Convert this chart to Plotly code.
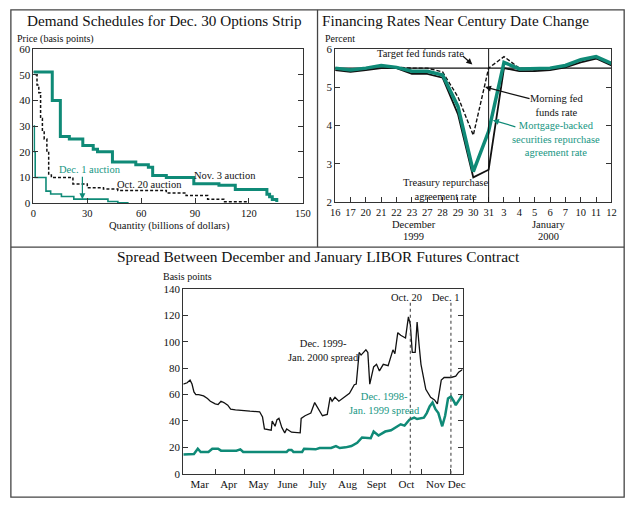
import plotly.graph_objects as go

# ---------------- data: top-left (demand schedules, step vertices) ----------------
nov3_qty = [0, 10.5, 15, 20, 27.5, 33.3, 35.7, 44, 57, 64, 66.4, 74, 89.3, 103.3, 112.4, 130, 131.5, 133, 135.5]
nov3_price = [51, 40, 26, 25, 22.5, 21, 20, 16, 15, 14, 10.8, 10, 7.6, 7, 5.3, 3.5, 2.5, 1.5, 0.5]

oct20_qty = [0, 1.5, 2, 3, 4, 5, 6, 7.5, 8.5, 10, 22, 30, 39, 47, 74, 85, 97, 106, 120]
oct20_price = [51, 50, 46, 43, 33, 28, 25, 20, 11, 10, 7.5, 6, 5.5, 5, 4, 3, 1.6, 0.6, 0.6]

dec1_qty = [0, 0.5, 1, 7, 9.6, 15.6, 22.5, 41.5, 47, 53]
dec1_price = [30, 20, 10, 4.7, 3.6, 2.6, 1.6, 0.7, 0.2, 0.2]

# ---------------- data: top-right (financing rates) ----------------
day_labels = ["16", "17", "20", "21", "22", "23", "27", "28", "29", "30", "31",
              "3", "4", "5", "6", "7", "10", "11", "12"]
target_rate = [5.5] * 19
morning_ff = [5.5, 5.45, 5.5, 5.55, 5.52, 5.5, 5.5, 5.4, 4.75, 3.75, 5.5,
              5.8, 5.5, 5.45, 5.5, 5.55, 5.7, 5.78, 5.6]
treasury_repo = [5.45, 5.4, 5.45, 5.5, 5.5, 5.35, 5.35, 5.25, 4.3, 2.65, 2.85,
                 5.5, 5.42, 5.42, 5.45, 5.52, 5.65, 5.75, 5.57]
mbs_repo = [5.5, 5.45, 5.5, 5.57, 5.52, 5.42, 5.42, 5.32, 4.5, 2.8, 3.85,
            5.65, 5.48, 5.48, 5.5, 5.57, 5.72, 5.8, 5.62]

# ---------------- data: bottom (LIBOR futures spreads) ----------------
spread99_dates = ["1999-02-27", "1999-03-03", "1999-03-06", "1999-03-08", "1999-03-10", "1999-03-12",
                  "1999-03-15", "1999-03-20", "1999-03-24", "1999-03-27", "1999-04-01", "1999-04-04",
                  "1999-04-07", "1999-04-10", "1999-04-14", "1999-04-17", "1999-04-22", "1999-04-27",
                  "1999-05-07", "1999-05-17", "1999-05-20", "1999-05-22", "1999-05-29", "1999-05-30",
                  "1999-06-02", "1999-06-04", "1999-06-06", "1999-06-09", "1999-06-12", "1999-06-14",
                  "1999-06-19", "1999-06-28", "1999-06-29", "1999-07-03", "1999-07-09", "1999-07-13",
                  "1999-07-16", "1999-07-21", "1999-07-26", "1999-07-29", "1999-07-31", "1999-08-03",
                  "1999-08-07", "1999-08-13", "1999-08-18", "1999-08-23", "1999-08-25", "1999-08-28",
                  "1999-08-30", "1999-09-04", "1999-09-06", "1999-09-08", "1999-09-12", "1999-09-15",
                  "1999-09-18", "1999-09-22", "1999-09-27", "1999-10-02", "1999-10-04", "1999-10-07",
                  "1999-10-10", "1999-10-15", "1999-10-18", "1999-10-20", "1999-10-22", "1999-10-25",
                  "1999-10-27", "1999-10-29", "1999-10-31", "1999-11-05", "1999-11-10", "1999-11-14",
                  "1999-11-17", "1999-11-21", "1999-11-24", "1999-12-01", "1999-12-06", "1999-12-09",
                  "1999-12-13"]
spread99 = [68, 69, 71, 68, 62, 60, 60, 59, 57, 55, 53, 52.5,
            55, 54, 52, 49, 48.5, 48, 47.5, 47, 43, 34, 33, 40,
            36, 41, 42, 35, 31, 34, 31.5, 31, 42, 44, 46, 54,
            50, 44, 45, 58, 55, 58, 55, 58, 61, 67.5, 68, 92,
            90, 94, 92, 68, 81, 83, 78, 83, 82, 94, 91, 107,
            105, 103, 119, 113, 92, 92, 115, 98, 83, 64, 58, 56,
            53, 71, 73, 73, 74, 77, 79]

spread98_dates = ["1999-02-27", "1999-03-10", "1999-03-14", "1999-03-17", "1999-03-25", "1999-03-29",
                  "1999-04-04", "1999-04-07", "1999-04-23", "1999-04-27", "1999-04-30", "1999-06-14",
                  "1999-06-16", "1999-06-19", "1999-06-21", "1999-06-30", "1999-07-02", "1999-07-14",
                  "1999-07-18", "1999-07-30", "1999-08-04", "1999-08-08", "1999-08-14", "1999-08-20",
                  "1999-08-26", "1999-08-31", "1999-09-09", "1999-09-12", "1999-09-17", "1999-09-24",
                  "1999-09-30", "1999-10-05", "1999-10-10", "1999-10-14", "1999-10-19", "1999-10-24",
                  "1999-10-27", "1999-11-03", "1999-11-06", "1999-11-09", "1999-11-12", "1999-11-15",
                  "1999-11-18", "1999-11-22", "1999-11-25", "1999-11-28", "1999-12-01", "1999-12-04",
                  "1999-12-06", "1999-12-13"]
spread98 = [14.5, 15, 19, 16.5, 16.5, 19, 19, 17.5, 17.5, 18.5, 16.5, 16.5,
            18, 18, 16.5, 16.5, 19, 18.5, 19.5, 19.5, 21, 19.5, 20, 21,
            23.5, 27.5, 27, 32, 29, 32, 33, 35, 37.5, 36.5, 41, 42.5,
            41.5, 42.5, 46, 51, 54, 49, 46, 36, 44, 57, 58.5, 55,
            52, 60]

month_ticks = ["1999-04-01", "1999-05-01", "1999-06-01", "1999-07-01", "1999-08-01",
               "1999-09-01", "1999-10-01", "1999-11-01", "1999-12-01"]
month_label_dates = ["1999-03-16", "1999-04-15", "1999-05-16", "1999-06-15", "1999-07-16",
                     "1999-08-16", "1999-09-15", "1999-10-16", "1999-11-15", "1999-12-07"]
month_labels = ["Mar", "Apr", "May", "June", "July", "Aug", "Sept", "Oct", "Nov", "Dec"]
event_dates = ["1999-10-20", "1999-12-01"]
event_labels = ["Oct. 20", "Dec. 1"]

# ---------------- styling ----------------
W, H = 640, 510
TEAL = "#0f8a77"
TEAL_TXT = "#179683"
INK = "#111111"
SERIF = "Liberation Serif"


def fx(px):
    return px / W


def fy(py):
    return 1 - py / H


fig = go.Figure()

# top-left traces
fig.add_trace(go.Scatter(x=dec1_qty, y=dec1_price, mode="lines", line=dict(color=TEAL, width=1.6, shape="hv"),
                         xaxis="x", yaxis="y", hoverinfo="skip"))
fig.add_trace(go.Scatter(x=oct20_qty, y=oct20_price, mode="lines",
                         line=dict(color=INK, width=1.5, shape="hv", dash="3px,2px"),
                         xaxis="x", yaxis="y", hoverinfo="skip"))
fig.add_trace(go.Scatter(x=nov3_qty, y=nov3_price, mode="lines", line=dict(color=TEAL, width=3, shape="hv"),
                         xaxis="x", yaxis="y", hoverinfo="skip"))

# top-right traces
idx = list(range(len(day_labels)))
fig.add_trace(go.Scatter(x=idx, y=target_rate, mode="lines", line=dict(color=INK, width=1.2),
                         xaxis="x2", yaxis="y2", hoverinfo="skip"))
fig.add_trace(go.Scatter(x=idx, y=morning_ff, mode="lines", line=dict(color=INK, width=1.4, dash="4px,2px"),
                         xaxis="x2", yaxis="y2", hoverinfo="skip"))
fig.add_trace(go.Scatter(x=idx, y=treasury_repo, mode="lines", line=dict(color=INK, width=1.8),
                         xaxis="x2", yaxis="y2", hoverinfo="skip"))
fig.add_trace(go.Scatter(x=idx, y=mbs_repo, mode="lines", line=dict(color=TEAL, width=3.5),
                         xaxis="x2", yaxis="y2", hoverinfo="skip"))

# bottom traces
fig.add_trace(go.Scatter(x=spread98_dates, y=spread98, mode="lines", line=dict(color=TEAL, width=2.5),
                         xaxis="x3", yaxis="y3", hoverinfo="skip"))
fig.add_trace(go.Scatter(x=spread99_dates, y=spread99, mode="lines", line=dict(color=INK, width=1.3),
                         xaxis="x3", yaxis="y3", hoverinfo="skip"))

tickfont = dict(family=SERIF, size=11, color=INK)
axis_common = dict(showgrid=False, zeroline=False, showline=True, linecolor="#333", linewidth=1,
                   mirror=True, ticks="inside", ticklen=5, tickcolor="#333", tickfont=tickfont,
                   fixedrange=True)

fig.update_layout(
    width=W, height=H, margin=dict(l=0, r=0, t=0, b=0),
    paper_bgcolor="white", plot_bgcolor="white", showlegend=False,
    xaxis=dict(axis_common, domain=[fx(29), fx(304)], range=[0, 150], tickvals=[0, 30, 60, 90, 120, 150],
               anchor="y", tickfont=dict(family=SERIF, size=10.5, color=INK)),
    yaxis=dict(axis_common, domain=[fy(202), fy(44)], range=[0, 60], tickvals=[0, 10, 20, 30, 40, 50, 60],
               anchor="x", mirror="ticks"),
    xaxis2=dict(axis_common, domain=[fx(337), fx(619)], range=[0, 18], tickvals=idx, ticktext=day_labels,
                anchor="y2", tickfont=dict(family=SERIF, size=10.5, color=INK)),
    yaxis2=dict(axis_common, domain=[fy(201), fy(44)], range=[2, 6], tickvals=[2, 3, 4, 5, 6], anchor="x2",
                mirror="ticks"),
    xaxis3=dict(axis_common, type="date", domain=[fx(182), fx(467)], range=["1999-02-27", "1999-12-13"],
                tickvals=month_label_dates, ticktext=month_labels, ticks="", anchor="y3",
                minor=dict(tickvals=month_ticks, ticks="inside", ticklen=5, tickcolor="#333")),
    yaxis3=dict(axis_common, domain=[fy(479), fy(290)], range=[0, 140], tickvals=[0, 20, 40, 60, 80, 100, 120, 140],
                anchor="x3", mirror="ticks"),
)

shapes = []
# vertical line at the century date change (index of "31")
shapes.append(dict(type="line", xref="x2", yref="y2", x0=day_labels.index("31"), x1=day_labels.index("31"),
                   y0=2, y1=6, line=dict(color=INK, width=1)))
# event lines on the bottom panel
for d in event_dates:
    shapes.append(dict(type="line", xref="x3", yref="paper", x0=d, x1=d, y0=fy(479), y1=fy(304),
                       line=dict(color="#555", width=1.2, dash="3px,3px")))
# panel borders
border = dict(color="#444", width=1.3)
shapes += [
    dict(type="rect", xref="paper", yref="paper", x0=fx(6), x1=fx(632), y0=fy(503), y1=fy(4), line=border),
    dict(type="line", xref="paper", yref="paper", x0=fx(319), x1=fx(319), y0=fy(247), y1=fy(4), line=border),
    dict(type="line", xref="paper", yref="paper", x0=fx(6), x1=fx(632), y0=fy(247), y1=fy(247), line=border),
]
fig.update_layout(shapes=shapes)

ann = []


def txt(px, py, text, size=10.5, color=INK, family=SERIF, xanchor="center"):
    ann.append(dict(xref="paper", yref="paper", x=fx(px), y=fy(py), text=text, showarrow=False,
                    xanchor=xanchor, yanchor="middle", font=dict(family=family, size=size, color=color)))


def arrow(hx, hy, tx, ty, color=INK):
    ann.append(dict(xref="paper", yref="paper", x=fx(hx), y=fy(hy), ax=tx - hx, ay=ty - hy, text="",
                    showarrow=True, arrowhead=2, arrowsize=1, arrowwidth=1.2, arrowcolor=color,
                    axref="pixel", ayref="pixel"))


# titles
txt(163, 15, "Demand Schedules for Dec. 30 Options Strip", size=15.2)
txt(460, 15, "Financing Rates Near Century Date Change", size=15.2)
txt(320, 257, "Spread Between December and January LIBOR Futures Contract", size=15.4)

# top-left labels
txt(52, 34, "Price (basis points)", size=10)
txt(168, 225, "Quantity (billions of dollars)", size=10.5)
txt(87, 167, "Dec. 1 auction", color=TEAL_TXT)
arrow(79, 198, 79, 174, color=TEAL)
txt(148, 183, "Oct. 20 auction")
txt(225, 174, "Nov. 3 auction")

# top-right labels
txt(342, 33, "Percent", size=10)
txt(424, 49, "Target fed funds rate")
arrow(477, 60, 466, 50)
txt(563, 102, "Morning fed<br>funds rate")
arrow(490, 83, 536, 95)
txt(562, 136, "Mortgage-backed<br>securities repurchase<br>agreement rate", color=TEAL_TXT)
arrow(498, 117, 522, 124, color=TEAL)
txt(450, 188, "Treasury repurchase<br>agreement rate")
txt(417, 224, "December")
txt(417, 236, "1999")
txt(555, 224, "January")
txt(555, 236, "2000")

# bottom labels
txt(186, 277, "Basis points", size=10)
txt(410, 299, event_labels[0])
txt(450, 299, event_labels[1])
txt(325, 353, "Dec. 1999-<br>Jan. 2000 spread")
txt(387, 407, "Dec. 1998-<br>Jan. 1999 spread", color=TEAL_TXT)

fig.update_layout(annotations=ann)
fig.write_html("out.html", post_script="document.body.style.margin='0px';",
               config={"displayModeBar": False})
